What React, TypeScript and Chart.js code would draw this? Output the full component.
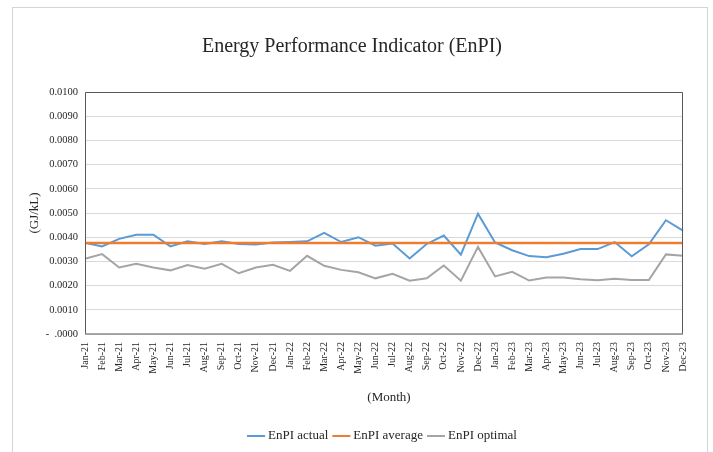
import React, { useEffect, useRef } from 'react';
import { Chart, registerables } from 'chart.js';

Chart.register(...registerables);

const months = [
  'Jan-21', 'Feb-21', 'Mar-21', 'Apr-21', 'May-21', 'Jun-21', 'Jul-21', 'Aug-21', 'Sep-21', 'Oct-21', 'Nov-21', 'Dec-21',
  'Jan-22', 'Feb-22', 'Mar-22', 'Apr-22', 'May-22', 'Jun-22', 'Jul-22', 'Aug-22', 'Sep-22', 'Oct-22', 'Nov-22', 'Dec-22',
  'Jan-23', 'Feb-23', 'Mar-23', 'Apr-23', 'May-23', 'Jun-23', 'Jul-23', 'Aug-23', 'Sep-23', 'Oct-23', 'Nov-23', 'Dec-23',
];

const enpiActual = [
  0.00377, 0.00362, 0.00393, 0.00410, 0.00410, 0.00362, 0.00383, 0.00372, 0.00383, 0.00372, 0.00370, 0.00378,
  0.00380, 0.00383, 0.00418, 0.00380, 0.00400, 0.00365, 0.00374, 0.00312, 0.00372, 0.00407, 0.00328, 0.00497,
  0.00378, 0.00346, 0.00322, 0.00317, 0.00332, 0.00351, 0.00351, 0.00380, 0.00321, 0.00371, 0.00470, 0.00427,
];

const enpiAverage = [
  0.00376, 0.00376, 0.00376, 0.00376, 0.00376, 0.00376, 0.00376, 0.00376, 0.00376, 0.00376, 0.00376, 0.00376,
  0.00376, 0.00376, 0.00376, 0.00376, 0.00376, 0.00376, 0.00376, 0.00376, 0.00376, 0.00376, 0.00376, 0.00376,
  0.00376, 0.00376, 0.00376, 0.00376, 0.00376, 0.00376, 0.00376, 0.00376, 0.00376, 0.00376, 0.00376, 0.00376,
];

const enpiOptimal = [
  0.00311, 0.00330, 0.00275, 0.00290, 0.00275, 0.00263, 0.00285, 0.00270, 0.00290, 0.00251, 0.00275, 0.00286,
  0.00261, 0.00323, 0.00282, 0.00265, 0.00255, 0.00230, 0.00249, 0.00220, 0.00230, 0.00283, 0.00220, 0.00360,
  0.00238, 0.00257, 0.00221, 0.00233, 0.00233, 0.00226, 0.00222, 0.00228, 0.00223, 0.00223, 0.00329, 0.00323,
];

const seriesNames = ['EnPI actual', 'EnPI average', 'EnPI optimal'];
const seriesColors = ['#5b9bd5', '#ed7d31', '#a5a5a5'];

const titleText = 'Energy Performance Indicator (EnPI)';
const yTitleText = '(GJ/kL)';
const xTitleText = '(Month)';

const FONT = '"Liberation Serif", "Times New Roman", serif';

const decorPlugin = {
  id: 'decor',
  afterDraw(chart: any) {
    const ctx = chart.ctx as CanvasRenderingContext2D;
    const { left, right, top, bottom } = chart.chartArea;
    ctx.save();
    // plot frame
    ctx.strokeStyle = '#595959';
    ctx.lineWidth = 1;
    ctx.beginPath();
    ctx.moveTo(left + 0.5, bottom);
    ctx.lineTo(left + 0.5, top + 0.5);
    ctx.lineTo(right - 0.5, top + 0.5);
    ctx.lineTo(right - 0.5, bottom);
    ctx.stroke();
    ctx.strokeStyle = '#8c8c8c';
    ctx.lineWidth = 1.5;
    ctx.beginPath();
    ctx.moveTo(left, bottom);
    ctx.lineTo(right, bottom);
    ctx.stroke();

    ctx.fillStyle = '#262626';
    ctx.textAlign = 'center';
    ctx.textBaseline = 'middle';
    // title
    ctx.font = `20px ${FONT}`;
    ctx.fillText(titleText, 352, 47);
    // axis titles
    ctx.font = `13px ${FONT}`;
    ctx.save();
    ctx.translate(35, 213);
    ctx.rotate(-Math.PI / 2);
    ctx.fillText(yTitleText, 0, 0);
    ctx.restore();
    ctx.fillText(xTitleText, 389, 398);

    // legend
    ctx.font = `13px ${FONT}`;
    const lineLen = 18;
    const gapAfterLine = 3;
    const gapBetween = 4;
    const widths = seriesNames.map((n) => ctx.measureText(n).width);
    const total = widths.reduce((a, w) => a + lineLen + gapAfterLine + w, 0) + gapBetween * (seriesNames.length - 1);
    let x = 382 - total / 2;
    const ly = 436;
    ctx.textAlign = 'left';
    seriesNames.forEach((n, i) => {
      ctx.strokeStyle = seriesColors[i];
      ctx.lineWidth = 2;
      ctx.beginPath();
      ctx.moveTo(x, ly);
      ctx.lineTo(x + lineLen, ly);
      ctx.stroke();
      x += lineLen + gapAfterLine;
      ctx.fillStyle = '#262626';
      ctx.fillText(n, x, ly);
      x += widths[i] + gapBetween;
    });
    ctx.restore();
  },
};

export default function App() {
  const canvasRef = useRef<HTMLCanvasElement | null>(null);

  useEffect(() => {
    if (!canvasRef.current) return;
    const chart = new Chart(canvasRef.current, {
      type: 'line',
      data: {
        labels: months,
        datasets: [
          { label: seriesNames[0], data: enpiActual, borderColor: seriesColors[0], backgroundColor: seriesColors[0], borderWidth: 2, pointRadius: 0, tension: 0, order: 1 },
          { label: seriesNames[1], data: enpiAverage, borderColor: seriesColors[1], backgroundColor: seriesColors[1], borderWidth: 2.5, pointRadius: 0, tension: 0, order: 0 },
          { label: seriesNames[2], data: enpiOptimal, borderColor: seriesColors[2], backgroundColor: seriesColors[2], borderWidth: 2, pointRadius: 0, tension: 0, order: 2 },
        ],
      },
      options: {
        animation: false,
        responsive: true,
        maintainAspectRatio: false,
        layout: { padding: { left: 0, right: 30, top: 92, bottom: 0 } },
        plugins: {
          legend: { display: false },
          title: { display: false },
          tooltip: { enabled: false },
        },
        scales: {
          x: {
            grid: { display: false, drawTicks: false },
            border: { display: false },
            ticks: {
              autoSkip: false,
              minRotation: 90,
              maxRotation: 90,
              padding: 8,
              color: '#262626',
              font: { family: FONT, size: 10 },
            },
            afterFit: (scale: any) => { scale.height = 118; },
          },
          y: {
            min: 0,
            max: 0.01,
            grid: { color: '#d9d9d9', lineWidth: 1, drawTicks: false },
            border: { display: false },
            ticks: {
              stepSize: 0.001,
              padding: 7,
              color: '#262626',
              font: { family: FONT, size: 10.5 },
              callback: (v: any) => (Number(v) === 0 ? '-  .0000' : Number(v).toFixed(4)),
            },
            afterFit: (scale: any) => { scale.width = 85; },
          },
        },
      },
      plugins: [decorPlugin],
    });
    return () => chart.destroy();
  }, []);

  return (
    <div style={{ position: 'fixed', left: 0, top: 0, width: 713, height: 452, background: '#ffffff', overflow: 'hidden' }}>
      <div style={{ position: 'absolute', left: 12, top: 7, width: 696, height: 470, border: '1px solid #d4d4d4', boxSizing: 'border-box' }} />
      <canvas ref={canvasRef} style={{ position: 'absolute', left: 0, top: 0, width: 713, height: 452 }} />
    </div>
  );
}
